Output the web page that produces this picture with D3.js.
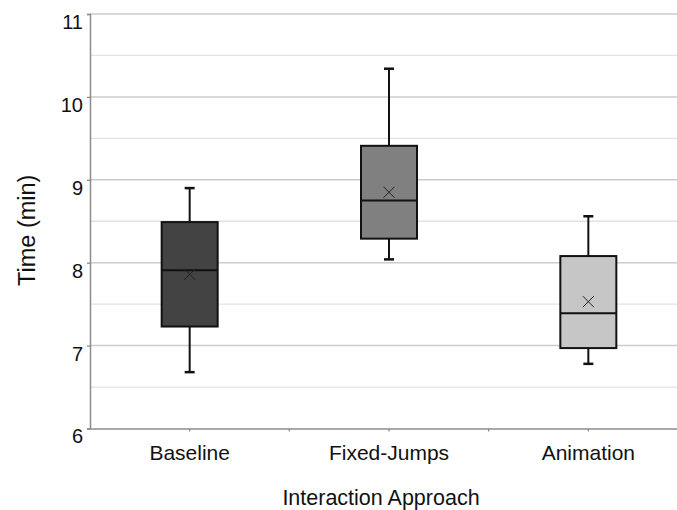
<!DOCTYPE html>
<html>
<head>
<meta charset="utf-8">
<script src="https://cdn.jsdelivr.net/npm/d3@7"></script>
<style>
  body { margin: 0; background: #fff; }
  svg { display: block; font-family: "Liberation Sans", Arial, sans-serif; }
</style>
</head>
<body>
<div id="chart"></div>
<script>
// box plot values
const categories = ["Baseline", "Fixed-Jumps", "Animation"]
const whiskerLow = [6.68, 8.04, 6.78]
const q1 = [7.23, 8.29, 6.97]
const median = [7.91, 8.75, 7.39]
const q3 = [8.49, 9.41, 8.08]
const whiskerHigh = [8.90, 10.34, 8.56]
const mean = [7.86, 8.85, 7.53]
const fills = ["#434343", "#808080", "#c6c6c6"]
const yTicks = [6, 7, 8, 9, 10, 11]
const yMinor = [6.5, 7.5, 8.5, 9.5, 10.5]

const width = 677, height = 510
const margin = {top: 14, left: 90}
const plotBottom = 428.5, plotRight = 688

const svg = d3.select("#chart").append("svg")
  .attr("width", width)
  .attr("height", height)

const x = d3.scaleBand()
  .domain(categories)
  .range([margin.left, plotRight])

const y = d3.scaleLinear()
  .domain([6, 11])
  .range([plotBottom, margin.top])

// gridlines
svg.append("g").selectAll("line")
  .data(yMinor)
  .enter().append("line")
  .attr("x1", margin.left).attr("x2", plotRight)
  .attr("y1", d => y(d)).attr("y2", d => y(d))
  .attr("stroke", "#e2e2e2").attr("stroke-width", 1.3)

svg.append("g").selectAll("line")
  .data(yTicks.slice(1))
  .enter().append("line")
  .attr("x1", margin.left).attr("x2", plotRight)
  .attr("y1", d => y(d)).attr("y2", d => y(d))
  .attr("stroke", "#cccccc").attr("stroke-width", 1.5)

// y axis
const yAxis = svg.append("g")
  .attr("transform", "translate(" + margin.left + ",0)")
  .call(d3.axisLeft(y).tickValues(yTicks).tickSize(3).tickFormat(d3.format("d")))
yAxis.select(".domain").attr("stroke", "#8c8c8c").attr("stroke-width", 1.5)
yAxis.selectAll(".tick line").attr("stroke", "#8c8c8c").attr("stroke-width", 1.3)
yAxis.selectAll(".tick text")
  .attr("x", -7)
  .attr("dy", "0.72em")
  .attr("fill", "#111")
  .style("font-size", "20px")

// x axis: ticks at box centres and band boundaries
const xAxis = svg.append("g")
  .attr("transform", "translate(0," + plotBottom + ")")
  .call(d3.axisBottom(x).tickSize(0).tickPadding(17))
xAxis.select(".domain").attr("stroke", "#8c8c8c").attr("stroke-width", 1.5)
xAxis.selectAll(".tick text")
  .attr("fill", "#111")
  .style("font-size", "21px")

const xTickPos = categories.map(d => x(d) + x.bandwidth() / 2)
  .concat(categories.slice(1).map(d => x(d)))
xAxis.selectAll(".minor")
  .data(xTickPos)
  .enter().append("line")
  .attr("x1", d => d).attr("x2", d => d)
  .attr("y1", 0).attr("y2", 3)
  .attr("stroke", "#8c8c8c").attr("stroke-width", 1.3)

// axis titles
svg.append("text")
  .attr("transform", "translate(35," + ((margin.top + plotBottom) / 2 + 9) + ") rotate(-90)")
  .attr("text-anchor", "middle")
  .attr("fill", "#111")
  .style("font-size", "23.5px")
  .text("Time (min)")

svg.append("text")
  .attr("x", (margin.left + plotRight) / 2 - 8)
  .attr("y", 504.5)
  .attr("text-anchor", "middle")
  .attr("fill", "#111")
  .style("font-size", "21.5px")
  .text("Interaction Approach")

// boxes
const boxW = 56, capW = 10
const boxes = svg.append("g").selectAll("g")
  .data(categories)
  .enter().append("g")
  .attr("transform", d => "translate(" + (x(d) + x.bandwidth() / 2) + ",0)")

boxes.append("line")
  .attr("x1", 0).attr("x2", 0)
  .attr("y1", (d, i) => y(whiskerHigh[i])).attr("y2", (d, i) => y(whiskerLow[i]))
  .attr("stroke", "#111").attr("stroke-width", 2)

boxes.append("line")
  .attr("x1", -capW / 2).attr("x2", capW / 2)
  .attr("y1", (d, i) => y(whiskerHigh[i])).attr("y2", (d, i) => y(whiskerHigh[i]))
  .attr("stroke", "#111").attr("stroke-width", 2.5)

boxes.append("line")
  .attr("x1", -capW / 2).attr("x2", capW / 2)
  .attr("y1", (d, i) => y(whiskerLow[i])).attr("y2", (d, i) => y(whiskerLow[i]))
  .attr("stroke", "#111").attr("stroke-width", 2.5)

boxes.append("rect")
  .attr("x", -boxW / 2)
  .attr("width", boxW)
  .attr("y", (d, i) => y(q3[i]))
  .attr("height", (d, i) => y(q1[i]) - y(q3[i]))
  .attr("fill", (d, i) => fills[i])
  .attr("stroke", "#111").attr("stroke-width", 2)

boxes.append("line")
  .attr("x1", -boxW / 2).attr("x2", boxW / 2)
  .attr("y1", (d, i) => y(median[i])).attr("y2", (d, i) => y(median[i]))
  .attr("stroke", "#111").attr("stroke-width", 2)

// mean markers
boxes.append("path")
  .attr("d", (d, i) => {
    const cy = y(mean[i]), s = 5.5
    return "M" + (-s) + "," + (cy - s) + "L" + s + "," + (cy + s) +
      "M" + (-s) + "," + (cy + s) + "L" + s + "," + (cy - s)
  })
  .attr("stroke", "#222").attr("stroke-width", 1)
  .attr("fill", "none")
</script>
</body>
</html>
